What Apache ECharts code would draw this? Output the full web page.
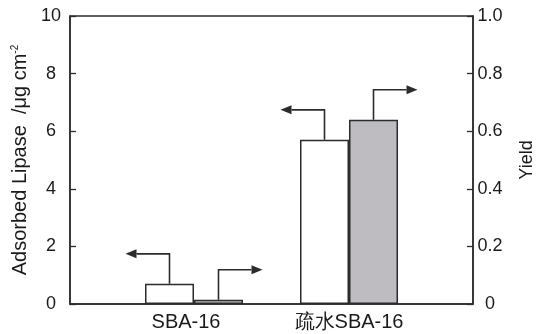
<!DOCTYPE html>
<html>
<head>
<meta charset="utf-8">
<script src="https://cdn.jsdelivr.net/npm/echarts@6/dist/echarts.min.js"></script>
<style>
  html, body { margin: 0; padding: 0; background: #fff; }
  #chart { width: 537px; height: 334px; }
</style>
</head>
<body>
<div id="chart"></div>
<script>
// Sample names and their positions along the x axis
const categories = ['SBA-16', '疏水SBA-16'];
const positions = [0.8, 1.8];
// Adsorbed lipase (µg/cm², left axis) and yield (right axis)
const adsorbed = [0.7, 5.7];
const yieldValues = [0.015, 0.64];
// Axis tick labels
const leftTicks = [0, 2, 4, 6, 8, 10];
const rightTicks = [0, 0.2, 0.4, 0.6, 0.8, 1.0];

const FONT = '"Liberation Sans", Arial, sans-serif';
const INK = '#2b2b2b';
const TEXT = '#1a1a1a';
const BAR_W = 49;
const RISE = 30;
const RUN = 44;

// Elbow arrow from the top of a bar pointing toward the axis it is read against
function arrowRenderer(side, dir) {
  return function (params, api) {
    const p = api.coord([api.value(0), api.value(1)]);
    const x = p[0] + side * BAR_W / 2;
    const y = p[1];
    const yTop = y - RISE;
    const tipX = x + dir * RUN;
    const headLen = 11, headHalf = 4.5;
    return {
      type: 'group',
      children: [
        {
          type: 'polyline',
          shape: { points: [[x, y], [x, yTop], [tipX - dir * headLen, yTop]] },
          style: { stroke: INK, lineWidth: 1.6, fill: null }
        },
        {
          type: 'polygon',
          shape: { points: [[tipX, yTop], [tipX - dir * headLen, yTop - headHalf], [tipX - dir * headLen, yTop + headHalf]] },
          style: { fill: INK, stroke: null }
        }
      ]
    };
  };
}

const chart = echarts.init(document.getElementById('chart'), null, { renderer: 'canvas' });

chart.setOption({
  animation: false,
  backgroundColor: '#fff',
  grid: {
    left: 70, right: 64, top: 16, bottom: 30,
    outerBoundsMode: 'none', containLabel: false,
    show: true, borderColor: INK, borderWidth: 1.5, backgroundColor: 'transparent'
  },
  xAxis: {
    type: 'value',
    min: 0, max: 2.6,
    axisLine: { show: true, lineStyle: { color: INK, width: 1.5 } },
    axisTick: { show: false },
    splitLine: { show: false },
    axisLabel: {
      customValues: positions,
      formatter: v => {
        const i = positions.findIndex(p => Math.abs(p - v) < 1e-6);
        if (i < 0) return '';
        return i === 0 ? '{shift|' + categories[i] + '}' : categories[i];
      },
      rich: { shift: { fontFamily: FONT, fontSize: 20, color: TEXT, padding: [0, 16, 0, 0] } },
      color: TEXT, fontFamily: FONT, fontSize: 20, margin: 8
    }
  },
  yAxis: [
    {
      type: 'value',
      min: leftTicks[0], max: leftTicks[leftTicks.length - 1], interval: 2,
      name: 'Adsorbed Lipase  /μg cm{sup|-2}',
      nameLocation: 'middle', nameGap: 40, nameRotate: 90,
      nameTextStyle: {
        color: TEXT, fontFamily: FONT, fontSize: 20,
        rich: { sup: { fontFamily: FONT, fontSize: 10, verticalAlign: 'top', padding: [0, 0, 10, 0], color: TEXT } }
      },
      axisLine: { show: true, lineStyle: { color: INK, width: 1.5 } },
      axisTick: { show: true, inside: true, length: 6, lineStyle: { color: INK, width: 1.3 } },
      splitLine: { show: false },
      axisLabel: { color: TEXT, fontFamily: FONT, fontSize: 18, margin: 19, align: 'center' }
    },
    {
      type: 'value',
      position: 'right',
      min: rightTicks[0], max: rightTicks[rightTicks.length - 1], interval: 0.2,
      name: 'Yield',
      nameLocation: 'middle', nameGap: 45, nameRotate: 90,
      nameTextStyle: { color: TEXT, fontFamily: FONT, fontSize: 18 },
      axisLine: { show: true, lineStyle: { color: INK, width: 1.5 } },
      axisTick: { show: true, inside: true, length: 6, lineStyle: { color: INK, width: 1.3 } },
      splitLine: { show: false },
      axisLabel: {
        color: TEXT, fontFamily: FONT, fontSize: 18, margin: 17, align: 'center',
        formatter: v => (v === 0 ? '0' : v.toFixed(1))
      }
    }
  ],
  series: [
    {
      type: 'bar',
      name: 'adsorbed',
      xAxisIndex: 0, yAxisIndex: 0,
      barWidth: BAR_W, barGap: '0%',
      data: positions.map((p, i) => [p, adsorbed[i]]),
      itemStyle: { color: '#ffffff', borderColor: INK, borderWidth: 1.5 }
    },
    {
      type: 'bar',
      name: 'yield',
      xAxisIndex: 0, yAxisIndex: 1,
      barWidth: BAR_W, barGap: '0%',
      data: positions.map((p, i) => [p, yieldValues[i]]),
      itemStyle: { color: '#bebcc0', borderColor: INK, borderWidth: 1.5 }
    },
    {
      type: 'custom',
      xAxisIndex: 0, yAxisIndex: 0,
      renderItem: arrowRenderer(-1, -1),
      data: positions.map((p, i) => [p, adsorbed[i]]),
      z: 5
    },
    {
      type: 'custom',
      xAxisIndex: 0, yAxisIndex: 1,
      renderItem: arrowRenderer(1, 1),
      data: positions.map((p, i) => [p, yieldValues[i]]),
      z: 5
    }
  ]
});
</script>
</body>
</html>
